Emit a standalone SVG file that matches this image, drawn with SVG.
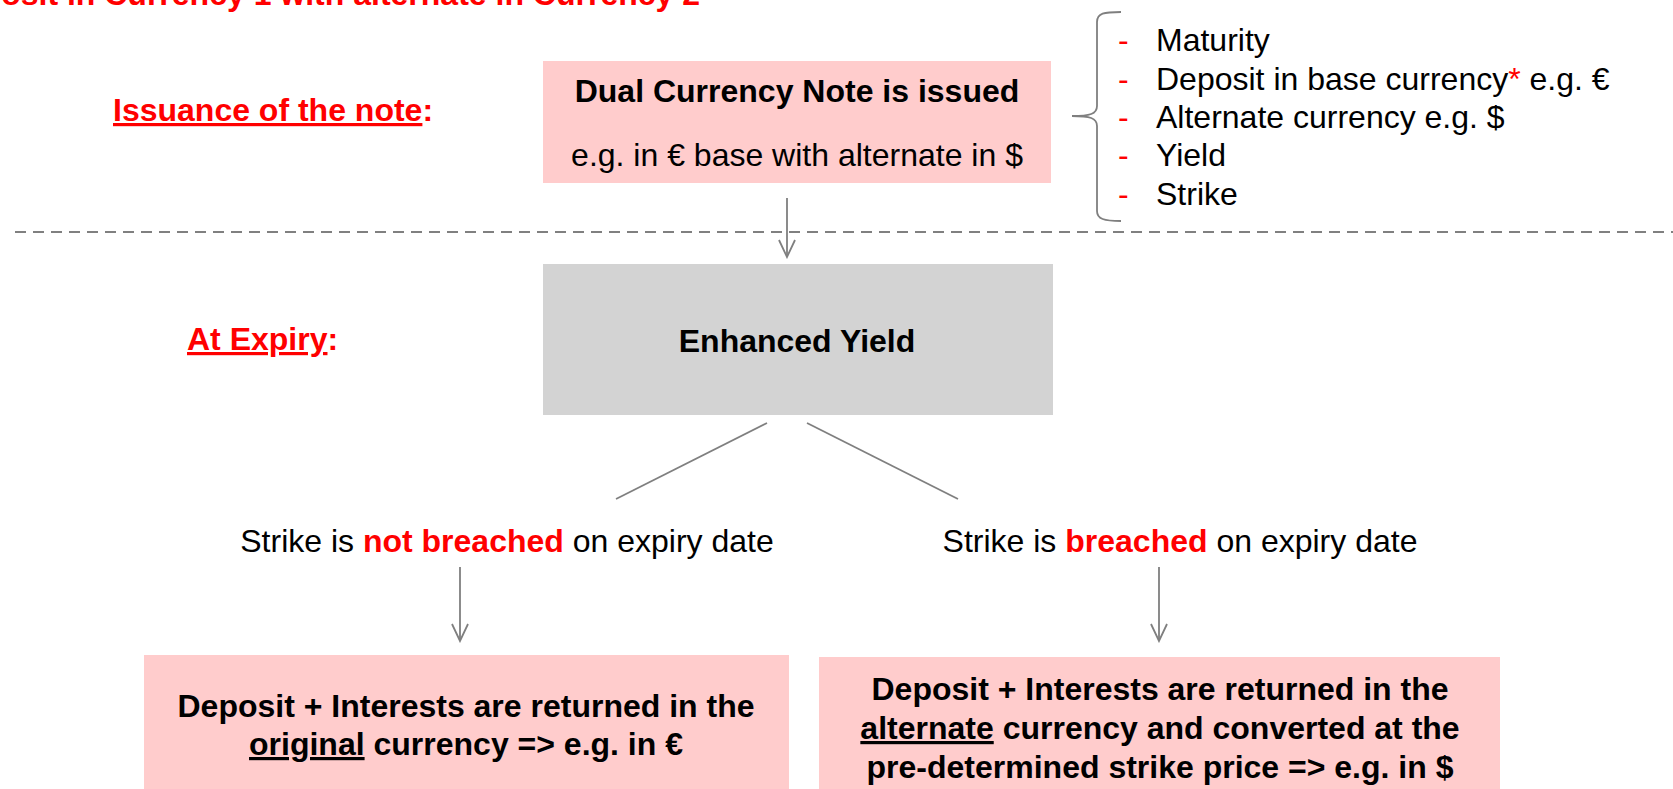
<svg xmlns="http://www.w3.org/2000/svg" width="1673" height="789" viewBox="0 0 1673 789">
  <style>
    text { font-family: "Liberation Sans", Arial, sans-serif; font-size: 32px; fill: #000; }
    .b { font-weight: bold; }
    .red { fill: #ff0000; }
    .u { text-decoration: underline; }
    .pink { fill: #ffcccc; }
    .grey { fill: #d3d3d3; }
    .wire { stroke: #7f7f7f; stroke-width: 1.8; fill: none; }
    .sep { stroke: #808080; stroke-width: 2; stroke-dasharray: 11 7; fill: none; }
  </style>
  <defs>
    <marker id="open-arrow" viewBox="-19 -10 21 20" refX="0" refY="0" markerWidth="21" markerHeight="20" markerUnits="userSpaceOnUse" orient="auto">
      <path d="M-17,-8 L0,0 L-17,8" fill="none" stroke="#7f7f7f" stroke-width="1.8"/>
    </marker>
  </defs>

  <rect width="1673" height="789" fill="#ffffff"/>

  <!-- heading, partly running off the top-left edge -->
  <text id="heading" class="b red" x="700" y="5" text-anchor="end">Deposit in Currency 1 with alternate in Currency 2</text>

  <!-- phase labels -->
  <g id="label-issuance">
    <text class="b red" x="113" y="121"><tspan class="u">Issuance of the note</tspan>:</text>
  </g>
  <g id="label-expiry">
    <text class="b red" x="187" y="350"><tspan class="u">At Expiry</tspan>:</text>
  </g>

  <!-- separator between issuance and expiry -->
  <line class="sep" x1="15" y1="232" x2="1673" y2="232"/>

  <!-- issued note -->
  <g id="note-issued">
    <rect class="pink" x="543" y="61" width="508" height="122"/>
    <text class="b" x="797" y="102" text-anchor="middle">Dual Currency Note is issued</text>
    <text x="797" y="166" text-anchor="middle">e.g. in € base with alternate in $</text>
  </g>

  <!-- note terms -->
  <g id="note-terms">
    <path class="wire" d="M1121,12 C1104,12 1097,13 1097,22 L1097,106 C1097,114 1090,116 1072,116 C1090,116 1097,118 1097,126 L1097,211 C1097,219 1104,221 1121,221"/>
    <text class="red" x="1118" y="51">-</text>
    <text class="red" x="1118" y="90">-</text>
    <text class="red" x="1118" y="128">-</text>
    <text class="red" x="1118" y="166">-</text>
    <text class="red" x="1118" y="205">-</text>
    <text x="1156" y="51">Maturity</text>
    <text x="1156" y="90">Deposit in base currency<tspan class="red">*</tspan> e.g. €</text>
    <text x="1156" y="128">Alternate currency e.g. $</text>
    <text x="1156" y="166">Yield</text>
    <text x="1156" y="205">Strike</text>
  </g>

  <!-- enhanced yield -->
  <g id="enhanced-yield">
    <rect class="grey" x="543" y="264" width="510" height="151"/>
    <text class="b" x="797" y="352" text-anchor="middle">Enhanced Yield</text>
  </g>

  <!-- outcomes -->
  <g id="not-breached">
    <text x="507" y="552" text-anchor="middle">Strike is <tspan class="b red">not breached</tspan> on expiry date</text>
  </g>
  <g id="breached">
    <text x="1180" y="552" text-anchor="middle">Strike is <tspan class="b red">breached</tspan> on expiry date</text>
  </g>

  <!-- settlement results -->
  <g id="return-original">
    <rect class="pink" x="144" y="655" width="645" height="140"/>
    <text class="b" x="466" y="717" text-anchor="middle">Deposit + Interests are returned in the</text>
    <text class="b" x="466" y="755" text-anchor="middle"><tspan class="u">original</tspan> currency =&gt; e.g. in €</text>
  </g>
  <g id="return-alternate">
    <rect class="pink" x="819" y="657" width="681" height="140"/>
    <text class="b" x="1160" y="700" text-anchor="middle">Deposit + Interests are returned in the</text>
    <text class="b" x="1160" y="739" text-anchor="middle"><tspan class="u">alternate</tspan> currency and converted at the</text>
    <text class="b" x="1160" y="778" text-anchor="middle">pre-determined strike price =&gt; e.g. in $</text>
  </g>

  <!-- connectors -->
  <g id="connectors">
    <line class="wire" x1="787" y1="198" x2="787" y2="257" marker-end="url(#open-arrow)"/>
    <line class="wire" x1="767" y1="423" x2="616" y2="499"/>
    <line class="wire" x1="807" y1="423" x2="958" y2="499"/>
    <line class="wire" x1="460" y1="567" x2="460" y2="641" marker-end="url(#open-arrow)"/>
    <line class="wire" x1="1159" y1="567" x2="1159" y2="641" marker-end="url(#open-arrow)"/>
  </g>
</svg>
